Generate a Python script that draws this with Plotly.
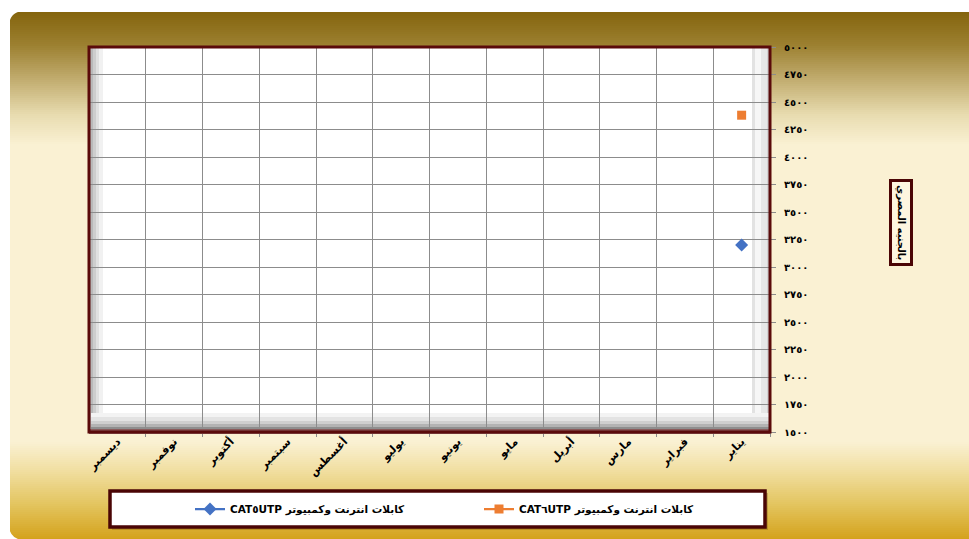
import plotly.graph_objects as go

# ---- data ----
months = ["يناير", "فبراير", "مارس", "أبريل", "مايو", "يونيو",
          "يوليو", "أغسطس", "سبتمبر", "أكتوبر", "نوفمبر", "ديسمبر"]
cat5_prices = [3200, None, None, None, None, None, None, None, None, None, None, None]
cat6_prices = [4380, None, None, None, None, None, None, None, None, None, None, None]
series_names = ["كابلات انترنت وكمبيوتر CAT٥UTP", "كابلات انترنت وكمبيوتر CAT٦UTP"]
y_ticks = [1500, 1750, 2000, 2250, 2500, 2750, 3000, 3250, 3500, 3750, 4000, 4250, 4500, 4750, 5000]
y_title = "بالجنيه المصري"

AR_DIGITS = str.maketrans("0123456789", "٠١٢٣٤٥٦٧٨٩")
y_ticktext = [str(v).translate(AR_DIGITS) for v in y_ticks]

# ---- page geometry (pixels) ----
W, H = 969, 539
L, R, T, B = 89, 770, 47, 432
PW, PH = R - L, B - T


def px(x):
    return (x - L) / PW


def py(y):
    return (B - y) / PH


def hexrgb(c):
    c = c.lstrip("#")
    return tuple(int(c[i:i + 2], 16) for i in (0, 2, 4))


def mix(c1, c2, t):
    a, b = hexrgb(c1), hexrgb(c2)
    return "rgb(%d,%d,%d)" % tuple(round(a[i] + (b[i] - a[i]) * t) for i in range(3))


def rect(x0, y0, x1, y1, fill, line=None, lw=0, layer="below"):
    return dict(type="rect", xref="paper", yref="paper",
                x0=px(x0), x1=px(x1), y0=py(y1), y1=py(y0),
                fillcolor=fill, line=dict(color=line or fill, width=lw), layer=layer)


shapes = []

# golden frame background (vertical gradient)
stops = [(12, "#84640D"), (45, "#9C8030"), (80, "#C2AD70"), (115, "#E8DCB0"),
         (145, "#FAF1D3"), (442, "#FAF1D3"), (470, "#F1DFA2"), (505, "#E3C45E"),
         (539, "#D4A21B")]
step = 2
y = 12
while y < 539:
    yc = y + step / 2
    for (ya, ca), (yb, cb) in zip(stops[:-1], stops[1:]):
        if ya <= yc <= yb:
            col = mix(ca, cb, (yc - ya) / (yb - ya))
            break
    else:
        col = stops[-1][1]
    shapes.append(rect(10, y, 975, min(y + step + 0.6, 540), col))
    y += step

# rounded corners of the frame
r = 13
shapes.append(dict(type="path", xref="paper", yref="paper", layer="below",
                   path="M %f,%f L %f,%f Q %f,%f %f,%f Z" % (
                       px(9), py(11), px(10 + r), py(11), px(10), py(12), px(9), py(12 + r)),
                   fillcolor="white", line=dict(width=0)))
shapes.append(dict(type="path", xref="paper", yref="paper", layer="below",
                   path="M %f,%f L %f,%f Q %f,%f %f,%f Z" % (
                       px(9), py(540), px(9), py(539 - r), px(10), py(539), px(10 + r), py(540)),
                   fillcolor="white", line=dict(width=0)))

# plot wall with bevelled edges
shapes.append(rect(L, T, R, B, "white"))
for x0, x1, c in [(90, 93, "#B9B9B9"), (93, 96, "#CDCDCD"), (96, 99, "#E0E0E0"), (99, 103, "#F1F1F1")]:
    shapes.append(rect(x0, T, x1, B, c))
for x0, x1, c in [(752, 755, "#E2E2E2"), (755, 761, "#F6F6F6"), (761, 767, "#E6E6E6"), (767, 769, "#D2D2D2")]:
    shapes.append(rect(x0, T, x1, B, c))
for y0, y1, c in [(413, 417, "#F3F3F3"), (417, 421, "#E3E3E3"), (421, 424, "#CFCFCF"),
                  (424, 427, "#B3B3B3"), (427, 431, "#8E8E8E")]:
    shapes.append(rect(91, y0, 769, y1, c))

# plot border
shapes.append(rect(L, 429, R, 434, "#8A5B5B", layer="above"))
shapes.append(dict(type="rect", xref="paper", yref="paper", x0=px(L), x1=px(R),
                   y0=py(B), y1=py(T), line=dict(color="#5A0A0A", width=3),
                   fillcolor="rgba(0,0,0,0)", layer="above"))

# legend frame
shapes.append(rect(112, 493, 768, 530, "rgba(90,60,0,0.25)", layer="above"))
shapes.append(rect(110, 491, 765, 527, "white", line="#4A0505", lw=3.5, layer="above"))

fig = go.Figure()
fig.add_trace(go.Scatter(
    x=months, y=cat5_prices, name="\u202B" + series_names[0] + "\u202C",
    mode="lines+markers", line=dict(color="#4472C4", width=2.25),
    marker=dict(symbol="diamond", size=10, color="#4472C4"),
))
fig.add_trace(go.Scatter(
    x=months, y=cat6_prices, name="\u202B" + series_names[1] + "\u202C",
    mode="lines+markers", line=dict(color="#ED7D31", width=2.25),
    marker=dict(symbol="square", size=9, color="#ED7D31"),
))

axis_font = dict(family="DejaVu Sans", size=11, color="black", weight="bold")

fig.update_layout(
    width=W, height=H,
    margin=dict(l=L, r=W - R, t=T, b=H - B),
    paper_bgcolor="white", plot_bgcolor="rgba(0,0,0,0)",
    shapes=shapes,
    font=dict(family="DejaVu Sans", color="black"),
    xaxis=dict(
        type="category", categoryorder="array", categoryarray=months,
        range=[11.5, -0.5], tickson="boundaries", ticks="outside", ticklen=4,
        tickcolor="#8C8C8C", showgrid=True, gridcolor="#8C8C8C", gridwidth=1,
        tickangle=-45, tickfont=axis_font, showline=False, zeroline=False,
        fixedrange=True,
    ),
    yaxis=dict(
        side="right", range=[1500, 5000], tickvals=y_ticks, ticktext=y_ticktext,
        ticks="outside", ticklen=5, tickcolor="#8C8C8C", showgrid=True,
        gridcolor="#8C8C8C", gridwidth=1, showline=False, zeroline=False,
        tickfont=dict(family="DejaVu Sans", size=10, color="black", weight="bold"),
        ticklabelstandoff=6,
    ),
    showlegend=True,
    legend=dict(
        orientation="h", x=px(190), xanchor="left", y=py(509), yanchor="middle",
        bgcolor="rgba(0,0,0,0)", borderwidth=0, entrywidth=244, entrywidthmode="pixels",
        font=dict(family="DejaVu Sans", size=10.5, color="black", weight="bold"),
        traceorder="normal",
    ),
    annotations=[dict(
        xref="paper", yref="paper", x=px(901), y=py(222), xanchor="center", yanchor="middle",
        text=y_title, textangle=90, showarrow=False,
        font=dict(family="DejaVu Sans", size=10, color="black", weight="bold"),
        bgcolor="#FDF6E0", bordercolor="#4A0505", borderwidth=3, borderpad=3,
    )],
)

fig.write_html("out.html")
